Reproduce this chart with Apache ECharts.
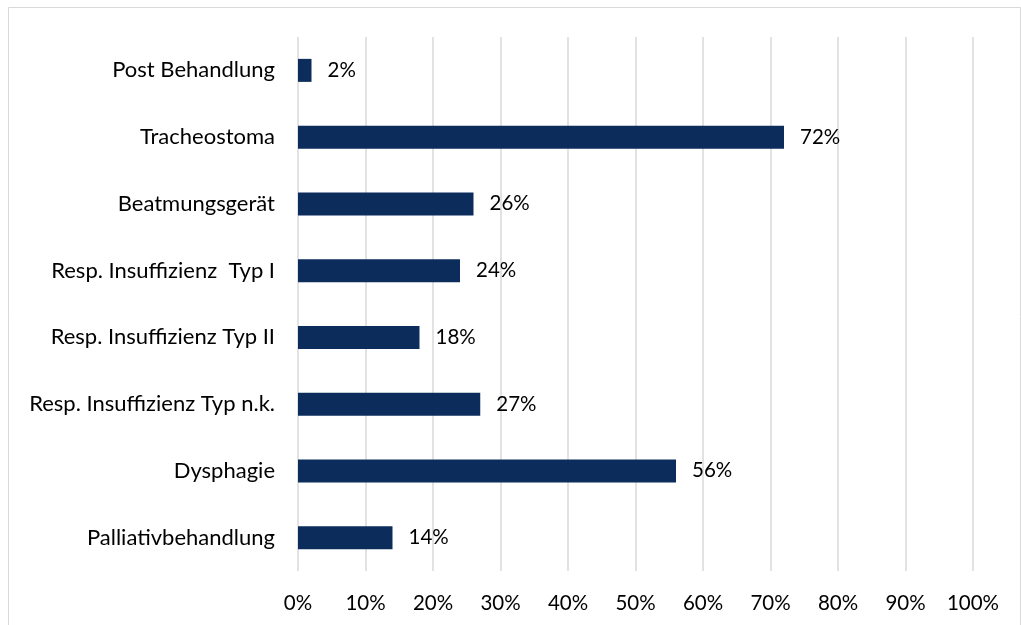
<!DOCTYPE html>
<html>
<head>
<meta charset="utf-8">
<script src="https://cdn.jsdelivr.net/npm/echarts@6/dist/echarts.min.js"></script>
<style>
  html, body { margin: 0; padding: 0; background: #fff; }
  #chart { width: 1021px; height: 625px; }
</style>
</head>
<body>
<div id="chart"></div>
<script>
// Categories listed top to bottom
const categories = [
  'Post Behandlung',
  'Tracheostoma',
  'Beatmungsgerät',
  'Resp. Insuffizienz  Typ I',
  'Resp. Insuffizienz Typ II',
  'Resp. Insuffizienz Typ n.k.',
  'Dysphagie',
  'Palliativbehandlung'
];
// Share of patients, percent
const shares = [2, 72, 26, 24, 18, 27, 56, 14];
// Value axis range and step, percent
const axisMin = 0;
const axisMax = 100;
const axisStep = 10;

const FONT = 'Lato';
const chart = echarts.init(document.getElementById('chart'), null, { renderer: 'canvas' });

chart.setOption({
  animation: false,
  backgroundColor: '#ffffff',
  textStyle: { fontFamily: FONT },
  graphic: [{
    type: 'rect',
    silent: true,
    shape: { x: 8.5, y: 7.5, width: 1012, height: 700 },
    style: { fill: 'none', stroke: '#d9d9d9', lineWidth: 1 }
  }],
  grid: { left: 298, right: 48, top: 37, bottom: 54, containLabel: false },
  xAxis: {
    type: 'value',
    min: axisMin,
    max: axisMax,
    interval: axisStep,
    axisLine: { show: false },
    axisTick: { show: false },
    splitLine: { show: true, lineStyle: { color: '#d9d9d9', width: 1.5 } },
    axisLabel: {
      formatter: '{value}%',
      color: '#000',
      fontSize: 20.5,
      fontFamily: FONT,
      margin: 22
    }
  },
  yAxis: {
    type: 'category',
    inverse: true,
    data: categories,
    axisLine: { show: false },
    axisTick: { show: false },
    axisLabel: {
      color: '#000',
      fontSize: 22,
      fontFamily: FONT,
      margin: 23
    }
  },
  series: [{
    type: 'bar',
    data: shares,
    barWidth: 23,
    itemStyle: { color: '#0c2d5c' },
    label: {
      show: true,
      position: 'right',
      distance: 16,
      formatter: '{c}%',
      color: '#000',
      fontSize: 20.5,
      fontFamily: FONT
    }
  }]
});
</script>
</body>
</html>
